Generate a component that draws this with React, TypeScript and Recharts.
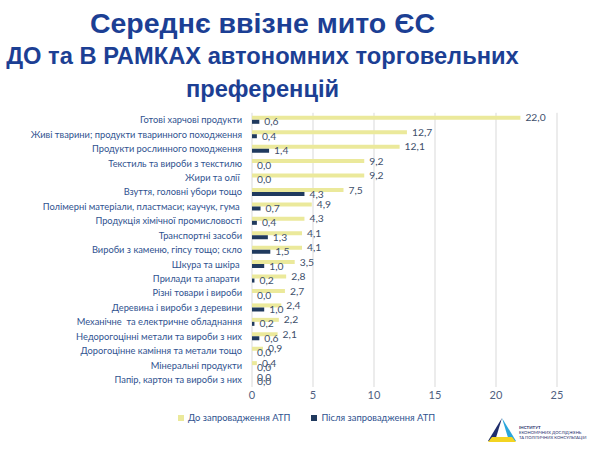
import { Bar, BarChart, CartesianGrid, LabelList, XAxis, YAxis } from "recharts";

const categories = [
  "Готові харчові продукти",
  "Живі тварини; продукти тваринного походження",
  "Продукти рослинного походження",
  "Текстиль та вироби з текстилю",
  "Жири та олії ",
  "Взуття, головні убори тощо",
  "Полімерні матеріали, пластмаси; каучук, гума ",
  "Продукція хімічної промисловості",
  "Транспортні засоби",
  "Вироби з каменю, гіпсу тощо; скло",
  "Шкура та шкіра ",
  "Прилади та апарати ",
  "Різні товари і вироби",
  "Деревина і вироби з деревини",
  "Механічне  та електричне обладнання",
  "Недорогоцінні метали та вироби з них",
  "Дорогоцінне каміння та метали тощо",
  "Мінеральні продукти",
  "Папір, картон та вироби з них",
];
const before = [22.0, 12.7, 12.1, 9.2, 9.2, 7.5, 4.9, 4.3, 4.1, 4.1, 3.5, 2.8, 2.7, 2.4, 2.2, 2.1, 0.9, 0.4, 0.0];
const after = [0.6, 0.4, 1.4, 0.0, 0.0, 4.3, 0.7, 0.4, 1.3, 1.5, 1.0, 0.2, 0.0, 1.0, 0.2, 0.6, 0.0, 0.0, 0.0];
const xTicks = [0, 5, 10, 15, 20, 25];

const beforeName = "До запровадження АТП";
const afterName = "Після запровадження АТП";

const YELLOW = "#ebe99b";
const NAVY = "#203a5e";
const TITLE = "#1c3f94";
const FONT = "Lato, 'Noto Sans', sans-serif";

const rows = categories.map((c, i) => ({ name: c, before: before[i], after: after[i] }));
const fmt = (v: unknown) => (v as number).toFixed(1).replace(".", ",");

// plain text tick so long names stay on one line
function CatTick(props: any) {
  const { x, y, payload } = props;
  return (
    <text x={x} y={y} dy="0.35em" textAnchor="end" fontSize={9.3} fill="#2f528f" fontFamily={FONT}
          style={{ whiteSpace: "pre" }}>
      {payload.value}
    </text>
  );
}

export default function App() {
  return (
    <div style={{ position: "absolute", left: 0, top: 0, width: 600, height: 451, background: "#fff", overflow: "hidden" }}>
      <div style={{ position: "absolute", left: 0, top: 7, width: 525, textAlign: "center", color: TITLE,
                    fontFamily: "'Liberation Sans', Arial, sans-serif", fontWeight: 700 }}>
        <div style={{ fontSize: 28.5, lineHeight: "33px" }}>Середнє ввізне мито ЄС</div>
        <div style={{ fontSize: 23.7, lineHeight: "33px" }}>ДО та В РАМКАХ автономних торговельних</div>
        <div style={{ fontSize: 23.7, lineHeight: "33px" }}>преференцій</div>
      </div>

      <div style={{ position: "absolute", left: 0, top: 100 }}>
        <BarChart width={600} height={310} data={rows} layout="vertical" barSize={4} barGap={0}
                  margin={{ top: 12.8, right: 43, bottom: 3, left: 0 }}>
          <CartesianGrid stroke="#d9d9d9" horizontal={false} />
          <XAxis type="number" domain={[0, 25]} ticks={xTicks} axisLine={false} tickLine={false}
                 tickSize={0} tickMargin={4} height={20}
                 tick={{ fontSize: 11, fill: "#4f6182", fontFamily: FONT }} />
          <YAxis type="category" dataKey="name" width={252} axisLine={false} tickLine={false}
                 tickSize={0} tickMargin={10} interval={0} tick={<CatTick />} />
          <Bar dataKey="before" fill={YELLOW} minPointSize={0.01} isAnimationActive={false}>
            <LabelList dataKey="before" position="right" offset={5} formatter={fmt}
                       style={{ fontSize: 10.3, fill: "#404f6b", fontFamily: FONT }} />
          </Bar>
          <Bar dataKey="after" fill={NAVY} minPointSize={0.01} isAnimationActive={false}>
            <LabelList dataKey="after" position="right" offset={5} formatter={fmt}
                       style={{ fontSize: 10.3, fill: "#404f6b", fontFamily: FONT }} />
          </Bar>
        </BarChart>
      </div>

      <div style={{ position: "absolute", left: 178, top: 412, display: "flex", alignItems: "center",
                    fontFamily: FONT, fontSize: 9.4, color: "#2f528f" }}>
        <span style={{ width: 6, height: 6, background: YELLOW, marginRight: 4 }} />
        <span>{beforeName}</span>
        <span style={{ width: 6, height: 6, background: NAVY, marginLeft: 21, marginRight: 4 }} />
        <span>{afterName}</span>
      </div>

      <svg style={{ position: "absolute", left: 486, top: 416 }} width={110} height={28}>
        <polygon points="16,2 2,25 9,25" fill="#1f2d6b" />
        <polygon points="16,2 30,25 23,25" fill="#2aa6dc" />
        <polygon points="6,21 26,21 30,26 2,26" fill="#f3d421" />
        <text x={33} y={13} fontSize={4.4} fontWeight={700} fill="#1f2d6b" fontFamily={FONT}>ІНСТИТУТ</text>
        <text x={33} y={18} fontSize={4.2} fill="#1f2d6b" fontFamily={FONT}>ЕКОНОМІЧНИХ ДОСЛІДЖЕНЬ</text>
        <text x={33} y={23} fontSize={4.2} fill="#1f2d6b" fontFamily={FONT}>ТА ПОЛІТИЧНИХ КОНСУЛЬТАЦІЙ</text>
      </svg>
    </div>
  );
}
